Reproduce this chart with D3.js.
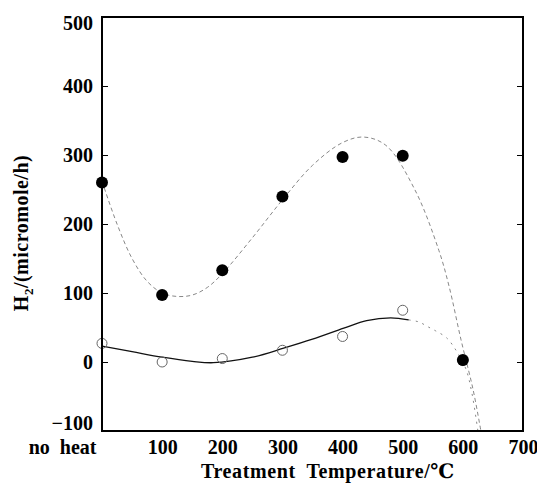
<!DOCTYPE html>
<html><head><meta charset="utf-8">
<script src="https://cdn.jsdelivr.net/npm/d3@7"></script>
<style>body{margin:0;background:#fff}svg{display:block}text{white-space:pre}</style>
</head><body><svg id="c" width="537" height="485"></svg>
<script>
// Data
const temps = [0, 100, 200, 300, 400, 500, 600];          // 0 = "no heat"
const filledH2 = [260, 97, 133, 240, 297, 299, 3];
const openH2 = [27, 0, 5, 17, 37, 75, 2];
const xTickVals = [0, 100, 200, 300, 400, 500, 600, 700];
const xTickLabels = ["no  heat", "100", "200", "300", "400", "500", "600", "700"];
const yTickVals = [-100, 0, 100, 200, 300, 400, 500];
// fitted curves
const filledFitX = [0, 25, 50, 75, 100, 125, 150, 175, 200, 250, 300, 350, 400, 435, 472, 520, 560, 577, 597, 617, 630];
const filledFitY = [262, 200, 150, 117, 100, 95, 97, 108, 128, 180, 235, 285, 318, 326, 314, 250, 162, 110, 32, -40, -100];
const openFitX = [0, 50, 100, 150, 185, 250, 302, 350, 402, 440, 480, 510];
const openFitY = [23, 15, 7, 1, -1, 7, 20, 33, 49, 60, 64, 61];
const openDotX = [510, 527, 542, 555, 573, 590, 605, 615, 625];
const openDotY = [61, 58, 51, 45, 35, 15, -10, -45, -100];

const svg = d3.select("#c");
const L = 102, R = 523, T = 17, B = 431;
const x = d3.scaleLinear().domain([0, 700]).range([L, R]);
const y = d3.scaleLinear().domain([-100, 500]).range([B, T]);
const font = "'Liberation Serif', 'DejaVu Serif', serif";

svg.append("clipPath").attr("id", "pc").append("rect")
  .attr("x", L).attr("y", T).attr("width", R - L).attr("height", B - T);

const line = d3.line().x(d => x(d[0])).y(d => y(d[1])).curve(d3.curveCatmullRom);
const g = svg.append("g").attr("clip-path", "url(#pc)");
g.append("path").datum(d3.zip(filledFitX, filledFitY)).attr("d", line)
  .attr("fill", "none").attr("stroke", "#888").attr("stroke-width", 1).attr("stroke-dasharray", "4,3");
g.append("path").datum(d3.zip(openFitX, openFitY)).attr("d", line)
  .attr("fill", "none").attr("stroke", "#111").attr("stroke-width", 1.3);
g.append("path").datum(d3.zip(openDotX, openDotY)).attr("d", line)
  .attr("fill", "none").attr("stroke", "#888").attr("stroke-width", 1).attr("stroke-dasharray", "2,5");

// open circles
svg.append("g").selectAll("circle").data(d3.zip(temps, openH2)).join("circle")
  .attr("cx", d => x(d[0])).attr("cy", d => y(d[1])).attr("r", 5)
  .attr("fill", "none").attr("stroke", "#666").attr("stroke-width", 1);
// filled circles
svg.append("g").selectAll("circle").data(d3.zip(temps, filledH2)).join("circle")
  .attr("cx", d => x(d[0])).attr("cy", d => y(d[1])).attr("r", 6)
  .attr("fill", "#000");

// axes
const yl = svg.append("g").attr("transform", `translate(${L},0)`)
  .call(d3.axisRight(y).tickValues(yTickVals).tickSize(6).tickFormat(""));
const yr = svg.append("g").attr("transform", `translate(${R},0)`)
  .call(d3.axisLeft(y).tickValues(yTickVals).tickSize(6).tickFormat(""));
const xb = svg.append("g").attr("transform", `translate(0,${B})`)
  .call(d3.axisBottom(x).tickValues(xTickVals).tickSize(0).tickFormat((d, i) => xTickLabels[i]));
[yl, yr, xb].forEach(a => { a.select(".domain").remove(); a.selectAll("line").attr("stroke", "#000"); });
xb.selectAll("text").attr("font-family", font).attr("font-weight", "bold").attr("font-size", 20)
  .attr("fill", "#000").attr("dy", "1.0em");
xb.selectAll("text").filter(d => d === 0).attr("text-anchor", "end").attr("dx", -6);

// y labels (end labels nudged inward like the reference)
const yShift = d => d === 500 ? 6 : (d === -100 ? -8 : 0);
svg.append("g").selectAll("text").data(yTickVals).join("text")
  .attr("x", L - 9).attr("y", d => y(d) + yShift(d)).attr("dy", "0.35em").attr("text-anchor", "end")
  .attr("font-family", font).attr("font-weight", "bold").attr("font-size", 20)
  .text(d => d < 0 ? "\u2212" + Math.abs(d) : d);

// frame
svg.append("rect").attr("x", L).attr("y", T).attr("width", R - L).attr("height", B - T)
  .attr("fill", "none").attr("stroke", "#000").attr("stroke-width", 2);

// titles
svg.append("text").attr("x", 328).attr("y", 478).attr("text-anchor", "middle")
  .attr("font-family", font).attr("font-weight", "bold").attr("font-size", 20).attr("letter-spacing", 0.6)
  .text("Treatment  Temperature/\u2103");
const yt = svg.append("text").attr("transform", "translate(28,233) rotate(-90)")
  .attr("text-anchor", "middle").attr("font-family", font).attr("font-weight", "bold").attr("font-size", 20)
  .attr("letter-spacing", 0.5);
yt.append("tspan").text("H");
yt.append("tspan").attr("font-size", 13).attr("dy", 5).text("2");
yt.append("tspan").attr("dy", -5).text("/(micromole/h)");
</script></body></html>
